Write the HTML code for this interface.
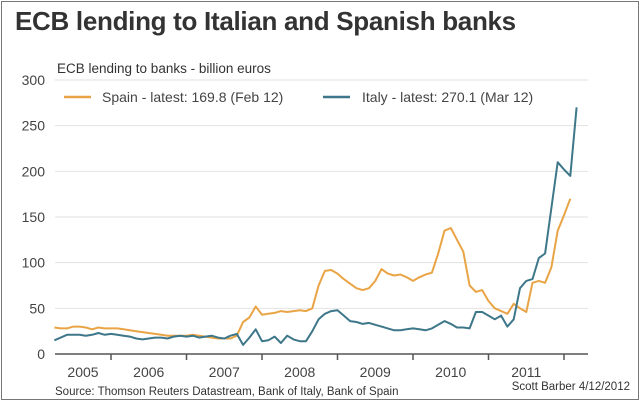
<!DOCTYPE html>
<html><head><meta charset="utf-8"><style>
html,body{margin:0;padding:0;background:#fff}
#wrap{position:relative;width:640px;height:401px;overflow:hidden;font-family:"Liberation Sans",Arial,sans-serif}
#frame{position:absolute;left:1px;top:1px;width:636px;height:397px;border:1px solid #777}
#title{position:absolute;left:15px;top:6px;font-size:26px;font-weight:bold;color:#333;letter-spacing:-0.3px;white-space:nowrap}
svg{position:absolute;left:0;top:0}
</style></head><body>
<div id="wrap">
<div id="frame"></div>
<div id="title">ECB lending to Italian and Spanish banks</div>
<svg id="chart" width="640" height="401"></svg>
</div>
<script>
const yTicks=[0,50,100,150,200,250,300];
const years=[2005,2006,2007,2008,2009,2010,2011];
const startYear=2005, startMonth=3; // April 2005 (0-based month)
const spain=[29,28,28,30,30,29,27,29,28,
28,28,27,26,25,24,23,22,21,20,20,20,
20,21,20,19,18,17,17,17,20,35,40,52,
43,44,45,47,46,47,48,47,50,75,91,92,
88,82,77,72,70,72,80,93,88,86,87,84,
80,84,87,89,110,135,138,125,112,75,68,70,
58,50,47,44,55,50,46,78,80,78,95,135,
152,170];
const italy=[15,18,21,21,21,20,21,23,21,
22,21,20,19,17,16,17,18,18,17,19,20,
19,20,18,19,20,18,17,20,22,10,18,27,
14,15,19,12,20,16,14,14,25,38,44,47,
48,42,36,35,33,34,32,30,28,26,26,27,
28,27,26,28,32,36,33,29,29,28,46,46,
42,38,42,30,38,72,80,82,105,110,160,210,
202,195,270];
const seriesNames=["Spain - latest: 169.8 (Feb 12)","Italy - latest: 270.1 (Mar 12)"];
const colors=["#e9a445","#3d7789"];
const NS="http://www.w3.org/2000/svg";
const svg=document.getElementById('chart');
const X0=55,X1=588,Y0=354,Y300=80;
function yS(v){return Y0-(v/300)*(Y0-Y300);}
function xS(t){return 111+(t-2006)*75.5;}
function mk(tag,attrs){const e=document.createElementNS(NS,tag);for(const k in attrs)e.setAttribute(k,attrs[k]);svg.appendChild(e);return e;}
yTicks.forEach(v=>{
  if(v>0){const g=mk('line',{x1:X0,x2:X1,y1:yS(v),y2:yS(v),stroke:'#e2e2e2','stroke-width':1});
  
  }
  const t=mk('text',{x:45,y:yS(v)+5,'text-anchor':'end','font-size':14,fill:'#444'});
  t.textContent=v;
  
  
});
const ax=mk('line',{x1:X0,x2:X1,y1:Y0,y2:Y0,stroke:'#555','stroke-width':1.5});


years.forEach(yr=>{
  const xt=xS(yr+1);
  if(xt<X1){const tk=mk('line',{x1:xt,x2:xt,y1:Y0,y2:Y0+6,stroke:'#555','stroke-width':1.5});
  
  }
  const l=Math.max(xS(yr),X0), r=Math.min(xS(yr+1),X1);
  const t=mk('text',{x:(l+r)/2,y:377,'text-anchor':'middle','font-size':14,fill:'#444'});
  t.textContent=yr;
  
  
});
function tOf(i){return startYear+(startMonth+i)/12;}
[spain,italy].forEach((s,k)=>{
  const d=s.map((v,i)=>(i?'L':'M')+xS(tOf(i)).toFixed(1)+','+yS(v).toFixed(1)).join('');
  const p=mk('path',{d:d,fill:'none',stroke:colors[k],'stroke-width':2,'stroke-linejoin':'round'});
  
  
});
const ut=mk('text',{x:57,y:73,'font-size':13.5,fill:'#333'});
ut.textContent='ECB lending to banks - billion euros';


[[64,102],[323,362]].forEach((pos,k)=>{
  const l=mk('line',{x1:pos[0],x2:pos[0]+27,y1:97,y2:97,stroke:colors[k],'stroke-width':2.5});
  
  
  const t=mk('text',{x:pos[1],y:102,'font-size':14,fill:'#444'});
  t.textContent=seriesNames[k];
  
  
});
const src=mk('text',{x:55,y:395,'font-size':11.5,fill:'#333'});
src.textContent='Source: Thomson Reuters Datastream, Bank of Italy, Bank of Spain';


const au=mk('text',{x:630,y:390,'text-anchor':'end','font-size':11.5,fill:'#333'});
au.textContent='Scott Barber 4/12/2012';


</script>
</body></html>
